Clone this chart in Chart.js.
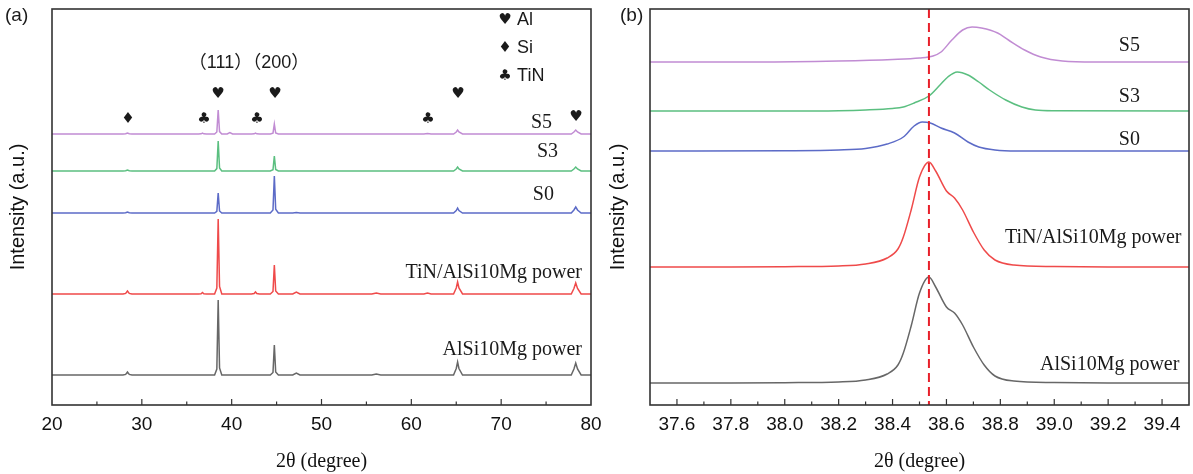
<!DOCTYPE html>
<html>
<head>
<meta charset="utf-8">
<script src="https://cdn.jsdelivr.net/npm/chart.js@4.4.1/dist/chart.umd.min.js"></script>
<style>
  html, body { margin: 0; padding: 0; background: #fff; }
  #wrap { position: relative; width: 1193px; height: 474px; }
  #wrap canvas { position: absolute; left: 0; top: 0; }
</style>
</head>
<body>
<div id="wrap">
  <canvas id="chartA" width="1193" height="474"></canvas>
  <canvas id="chartB" width="1193" height="474"></canvas>
</div>
<script>
// ---------- panel (a): full patterns, stacked intensity (a.u.)
const ticksA = [20, 30, 40, 50, 60, 70, 80];
const xA = [20,
  27.9, 28.2, 28.4, 28.6, 28.9,
  36.3, 36.6, 36.75, 36.9, 37.2,
  38.1, 38.35, 38.5, 38.65, 38.9,
  39.5, 39.8, 40.1,
  42.2, 42.5, 42.65, 42.8, 43.1,
  44.3, 44.6, 44.75, 44.9, 45.2,
  46.8, 47.2, 47.6,
  55.6, 56.1, 56.6,
  61.4, 61.8, 62.2,
  64.7, 65.0, 65.15, 65.3, 65.7,
  77.8, 78.1, 78.3, 78.5, 78.9,
  80];
const aAlSi = [30,
  30, 30.6, 33, 30.6, 30,
  30, 30, 30, 30, 30,
  30, 36, 105, 37, 30,
  30, 30, 30,
  30, 30, 30, 30, 30,
  30, 32.5, 60, 33, 30,
  30, 32, 30,
  30, 31, 30,
  30, 30, 30,
  30, 36.5, 43, 36.5, 30,
  30, 36, 42, 36, 30,
  30];
const aTiN = [111,
  111, 111.6, 114, 111.6, 111,
  111, 111.3, 112.5, 111.3, 111,
  111, 117, 186, 118.5, 111,
  111, 111, 111,
  111, 111.4, 113, 111.4, 111,
  111, 113.5, 140, 114, 111,
  111, 113, 111,
  111, 112, 111,
  111, 112, 111,
  111, 117, 123, 117, 111,
  111, 116.5, 122, 116.5, 111,
  111];
const aS0 = [192,
  192, 192.2, 193, 192.2, 192,
  192, 192, 192, 192, 192,
  192, 193.6, 212, 194, 192,
  192, 192, 192,
  192, 192, 192, 192, 192,
  192, 195, 229, 195.7, 192,
  192, 192.5, 192,
  192, 192, 192,
  192, 192, 192,
  192, 194.5, 197, 194.5, 192,
  192, 195, 198, 195, 192,
  192];
const aS3 = [234,
  234, 234.2, 235, 234.2, 234,
  234, 234, 234, 234, 234,
  234, 236.4, 264, 237, 234,
  234, 234, 234,
  234, 234, 234, 234, 234,
  234, 235.2, 249, 235.5, 234,
  234, 234, 234,
  234, 234, 234,
  234, 234, 234,
  234, 236, 238, 236, 234,
  234, 236, 238, 236, 234,
  234];
const aS5 = [271,
  271, 271.2, 272, 271.2, 271,
  271, 271.2, 272, 271.2, 271,
  271, 273, 295, 273.4, 271,
  271, 272.5, 271,
  271, 271.2, 272, 271.2, 271,
  271, 271.8, 281, 272, 271,
  271, 271, 271,
  271, 271, 271,
  271, 271.5, 271,
  271, 273, 275, 273, 271,
  271, 273, 275, 273, 271,
  271];

// ---------- panel (b): Al(111) peak close-up
const ticksB = [37.6, 37.8, 38.0, 38.2, 38.4, 38.6, 38.8, 39.0, 39.2, 39.4];
const refLine = 38.535;
const xB_powder = [37.5, 37.8, 38.0, 38.2, 38.3, 38.38, 38.42, 38.44, 38.47, 38.5, 38.535,
  38.56, 38.6, 38.63, 38.66, 38.7, 38.74, 38.78, 38.85, 39.0, 39.2, 39.5];
const bAlSi = [22, 22, 22.3, 23, 25, 31, 40, 52, 80, 112, 128,
  118, 98, 92, 80, 58, 40, 29, 24, 22.5, 22, 22];
const bTiN = [138, 138, 138.3, 139, 141, 147, 156, 168, 196, 228, 243,
  234, 214, 207, 195, 173, 155, 145, 140, 138.5, 138, 138];
const xB_S0 = [37.5, 38.0, 38.2, 38.3, 38.38, 38.44, 38.48, 38.51, 38.54, 38.58, 38.63, 38.68, 38.72, 38.78, 38.86, 39.5];
const bS0 = [254, 254.3, 255, 256.5, 261, 268, 279, 283, 282, 277, 272, 263, 258, 255, 254, 254];
const xB_S3 = [37.5, 38.0, 38.2, 38.3, 38.4, 38.44, 38.48, 38.535, 38.576, 38.605, 38.64, 38.68, 38.72, 38.76, 38.82, 38.88, 38.93, 39.0, 39.5];
const bS3 = [294, 294, 294.3, 295, 296.5, 298, 302, 309, 320, 328, 333, 330, 323, 315, 305, 298, 295, 294.3, 294];
const xB_S5 = [37.5, 37.9, 38.2, 38.4, 38.5, 38.55, 38.58, 38.62, 38.66, 38.695, 38.73, 38.79, 38.83, 38.89, 38.95, 39.03, 39.15, 39.5];
const bS5 = [343, 343, 344, 345.5, 347, 349, 353, 365, 375, 378, 377, 372, 365, 355, 348, 344, 343, 343];

const colors = { S5: '#c18cd3', S3: '#5bbf80', S0: '#5c6bc7', TiN: '#ef4a4a', AlSi: '#676767' };
const SERIF = '20px "Liberation Serif", serif';
const SANS = '18px "Liberation Sans", Arial, sans-serif';
const SYM = '15px "DejaVu Sans", sans-serif';

function pts(xs, ys) { return xs.map((v, i) => ({ x: v, y: ys[i] })); }

// ticks inside the frame, box, labels and markers
const frame = {
  id: 'frame',
  afterDatasetsDraw(chart, args, o) {
    const { ctx, chartArea: a, scales: { x, y } } = chart;
    ctx.save();
    if (o.vline != null) {
      const px = x.getPixelForValue(o.vline);
      ctx.strokeStyle = '#e8202a';
      ctx.lineWidth = 2;
      ctx.setLineDash([9, 5]);
      ctx.beginPath(); ctx.moveTo(px, a.top); ctx.lineTo(px, a.bottom); ctx.stroke();
      ctx.setLineDash([]);
    }
    ctx.strokeStyle = '#333';
    ctx.lineWidth = 1.2;
    const tick = (v, len) => {
      const px = x.getPixelForValue(v);
      ctx.beginPath(); ctx.moveTo(px, a.bottom); ctx.lineTo(px, a.bottom - len); ctx.stroke();
    };
    o.major.forEach(v => tick(v, 6));
    o.minor.forEach(v => tick(v, 3.5));
    ctx.lineWidth = 1.6;
    ctx.strokeRect(a.left, a.top, a.right - a.left, a.bottom - a.top);

    ctx.fillStyle = '#1a1a1a';
    ctx.textBaseline = 'middle';
    o.texts.forEach(t => {
      ctx.font = t.font;
      ctx.textAlign = t.align || 'left';
      ctx.fillText(t.text, x.getPixelForValue(t.x), y.getPixelForValue(t.y));
    });
    ctx.font = '19px "Liberation Sans", Arial, sans-serif';
    ctx.textAlign = 'left';
    ctx.fillText(o.tag, a.left + o.tagDx, a.top + 7);
    ctx.restore();
  }
};

function baseOptions(pad, yWidth, ticks, xmin, xmax, decimals, deco) {
  return {
    responsive: false,
    animation: false,
    devicePixelRatio: 1,
    layout: { padding: pad },
    plugins: { legend: { display: false }, tooltip: { enabled: false }, frame: deco },
    elements: { point: { radius: 0 }, line: { borderWidth: 1.5 } },
    scales: {
      x: {
        type: 'linear', min: xmin, max: xmax,
        grid: { display: false, drawTicks: false },
        border: { display: false },
        afterBuildTicks: s => { s.ticks = ticks.map(v => ({ value: v })); },
        afterFit: s => { s.height = 69; },
        ticks: {
          padding: 8, color: '#111', maxRotation: 0, autoSkip: false,
          font: { family: '"Liberation Sans", Arial, sans-serif', size: 19 },
          callback: v => Number(v).toFixed(decimals)
        },
        title: {
          display: true, text: '2θ (degree)', color: '#111',
          font: { family: '"Liberation Serif", serif', size: 20 },
          padding: { top: 0, bottom: 0 }
        }
      },
      y: {
        type: 'linear', min: 0, max: 396,
        grid: { display: false, drawTicks: false },
        border: { display: false },
        ticks: { display: false },
        afterFit: s => { s.width = yWidth; },
        title: {
          display: true, text: 'Intensity (a.u.)', color: '#111',
          font: { family: '"Liberation Sans", Arial, sans-serif', size: 20 },
          padding: { top: 6, bottom: 0 }
        }
      }
    }
  };
}

const lineSet = (label, data, color, extra) => Object.assign({
  label, data, borderColor: color, backgroundColor: color, fill: false, tension: 0
}, extra || {});

new Chart(document.getElementById('chartA'), {
  type: 'line',
  data: {
    datasets: [
      lineSet('AlSi10Mg power', pts(xA, aAlSi), colors.AlSi),
      lineSet('TiN/AlSi10Mg power', pts(xA, aTiN), colors.TiN),
      lineSet('S0', pts(xA, aS0), colors.S0),
      lineSet('S3', pts(xA, aS3), colors.S3),
      lineSet('S5', pts(xA, aS5), colors.S5)
    ]
  },
  options: baseOptions({ left: 0, top: 9, right: 602, bottom: 0 }, 52, ticksA, 20, 80, 0, {
    tag: '(a)', tagDx: -47,
    major: [30, 40, 50, 60, 70],
    minor: [25, 35, 45, 55, 65, 75],
    texts: [
      { text: 'S5', x: 75.66, y: 282, align: 'right', font: SERIF },
      { text: 'S3', x: 76.33, y: 253, align: 'right', font: SERIF },
      { text: 'S0', x: 75.88, y: 210, align: 'right', font: SERIF },
      { text: 'TiN/AlSi10Mg power', x: 79.0, y: 132, align: 'right', font: SERIF },
      { text: 'AlSi10Mg power', x: 79.0, y: 55, align: 'right', font: SERIF },
      { text: '（111）（200）', x: 41.93, y: 342, align: 'center', font: '18px "Liberation Sans", "Noto Sans CJK SC", sans-serif' },
      { text: '♦', x: 28.46, y: 286, align: 'center', font: SYM },
      { text: '♣', x: 36.92, y: 286, align: 'center', font: SYM },
      { text: '♥', x: 38.48, y: 311, align: 'center', font: SYM },
      { text: '♣', x: 42.82, y: 286, align: 'center', font: SYM },
      { text: '♥', x: 44.82, y: 311, align: 'center', font: SYM },
      { text: '♣', x: 61.85, y: 286, align: 'center', font: SYM },
      { text: '♥', x: 65.19, y: 311, align: 'center', font: SYM },
      { text: '♥', x: 78.33, y: 288, align: 'center', font: SYM },
      { text: '♥', x: 70.43, y: 385, align: 'center', font: SYM },
      { text: '♦', x: 70.43, y: 357, align: 'center', font: SYM },
      { text: '♣', x: 70.43, y: 329, align: 'center', font: SYM },
      { text: 'Al', x: 71.77, y: 385, font: SANS },
      { text: 'Si', x: 71.77, y: 357, font: SANS },
      { text: 'TiN', x: 71.77, y: 329, font: SANS }
    ]
  }),
  plugins: [frame]
});

new Chart(document.getElementById('chartB'), {
  type: 'line',
  data: {
    datasets: [
      lineSet('AlSi10Mg power', pts(xB_powder, bAlSi), colors.AlSi, { cubicInterpolationMode: 'monotone' }),
      lineSet('TiN/AlSi10Mg power', pts(xB_powder, bTiN), colors.TiN, { cubicInterpolationMode: 'monotone' }),
      lineSet('S0', pts(xB_S0, bS0), colors.S0, { cubicInterpolationMode: 'monotone' }),
      lineSet('S3', pts(xB_S3, bS3), colors.S3, { cubicInterpolationMode: 'monotone' }),
      lineSet('S5', pts(xB_S5, bS5), colors.S5, { cubicInterpolationMode: 'monotone' })
    ]
  },
  options: baseOptions({ left: 600, top: 9, right: 4, bottom: 0 }, 50, ticksB, 37.5, 39.5, 1, {
    tag: '(b)', tagDx: -30,
    vline: refLine,
    major: ticksB,
    minor: [37.7, 37.9, 38.1, 38.3, 38.5, 38.7, 38.9, 39.1, 39.3],
    texts: [
      { text: 'S5', x: 39.318, y: 359, align: 'right', font: SERIF },
      { text: 'S3', x: 39.318, y: 308, align: 'right', font: SERIF },
      { text: 'S0', x: 39.318, y: 265, align: 'right', font: SERIF },
      { text: 'TiN/AlSi10Mg power', x: 38.817, y: 167, font: SERIF },
      { text: 'AlSi10Mg power', x: 38.947, y: 40, font: SERIF }
    ]
  }),
  plugins: [frame]
});
</script>
</body>
</html>
